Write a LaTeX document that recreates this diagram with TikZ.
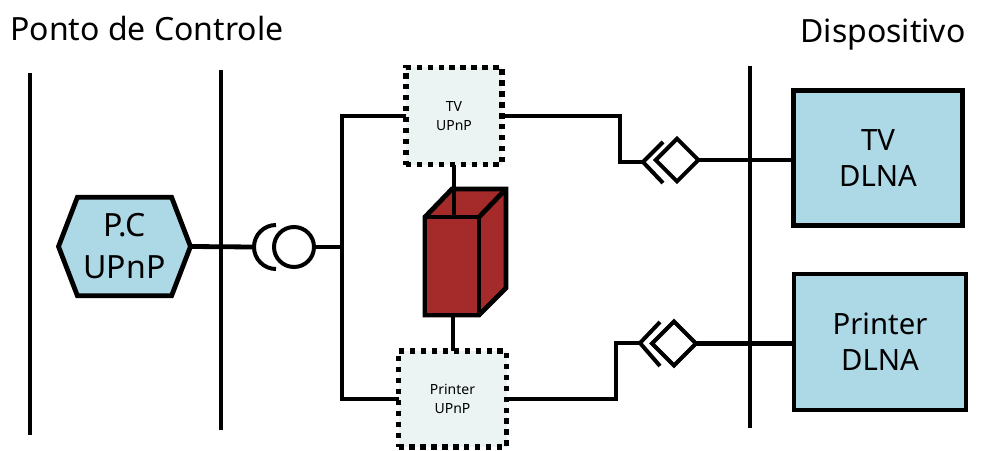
\documentclass[tikz,border=0pt]{standalone}
\usepackage{fontspec}
\setmainfont{Noto Sans}
\usetikzlibrary{shapes.geometric, shapes.symbols}

\begin{document}
\begin{tikzpicture}[x=0.75pt, y=-0.75pt, line width=3.6pt,
    bluebox/.style={draw, fill=devblue, align=center, inner sep=0pt, outer sep=0pt, font=\fontsize{22}{27}\selectfont},
    upnpbox/.style={draw, fill=boxgrey, align=center, inner sep=0pt, outer sep=0pt, line width=4pt, dash pattern=on 4pt off 4.2pt, font=\fontsize{10.5}{14}\selectfont},
    title/.style={inner sep=0pt, font=\fontsize{24}{29}\selectfont},
    joint/.style={draw, line width=3pt, fill=white, inner sep=0pt, outer sep=0pt}]
    \definecolor{devblue}{HTML}{ADD8E6}
    \definecolor{boxgrey}{HTML}{EBF3F3}
    \definecolor{boxred}{HTML}{A52A2A}
    \useasboundingbox (0,0) rectangle (1003,450);

    \node[title, anchor=west] (pontotitle) at (8,28) {Ponto de Controle};
    \node[title, anchor=east] (disptitle) at (968,35) {Dispositivo};

    % bus lines
    \draw (30,73) -- (30,435);
    \draw (221,70) -- (221,430);
    \draw (750,66) -- (750,428);

    \node[bluebox, signal, signal to=east and west, signal pointer angle=138,
          minimum width=99pt, minimum height=74pt, font=\fontsize{24}{31.5}\selectfont] (pc) at (124.5,246.5) {P.C\hspace{8pt}\\UPnP};
    \node[upnpbox, minimum width=72pt, minimum height=73pt] (tvupnp) at (454,116) {TV\\UPnP};
    \node[upnpbox, minimum width=81pt, minimum height=72pt] (printerupnp) at (452.5,399) {Printer\\UPnP};
    \node[bluebox, minimum width=127pt, minimum height=101pt] (tvdlna) at (878,158) {TV\\DLNA};
    \node[bluebox, minimum width=129pt, minimum height=102pt] (printerdlna) at (880,342) {Printer\\DLNA};

    \node[joint, circle, minimum size=30pt] (ring) at (294,247) {};
    \node[joint, diamond, aspect=1, minimum size=32pt] (tvjoint) at (677,160) {};
    \node[joint, diamond, aspect=1, minimum size=33pt] (printerjoint) at (674,343.5) {};

    \coordinate (arcend) at (254,247);
    \coordinate (branch) at (342,247);
    \coordinate (tvtip) at (643,162);
    \coordinate (printertip) at (640,343);
    \coordinate (cubetop) at (454,217);
    \coordinate (cubebottom) at (453,315);

    % socket and chevrons
    \draw[line width=3pt] (276,225) arc (270:90:22);
    \draw[line width=3pt] (663,142) -- (tvtip) -- (663,183);
    \draw[line width=3pt] (660,322) -- (printertip) -- (660,366);

    % connectors
    \draw (pc.east) -- (arcend);
    \draw (ring.east) -- (branch);
    \draw (tvupnp.west) -| (branch) |- (printerupnp.west);
    \draw (tvupnp.east) -| (620,162) -- (tvtip);
    \draw (printerupnp.east) -| (616,343) -- (printertip);
    \draw (tvjoint.east) -- (tvjoint.east -| tvdlna.west);
    \draw (printerjoint.east) -- (printerjoint.east -| printerdlna.west);
    \draw (tvupnp.south) -- (cubetop);
    \draw (cubebottom) -- (cubebottom |- printerupnp.north);

    % red box
    \draw[fill=boxred, line join=miter] (425,217) -- (452,189) -- (506,189) -- (506,288) -- (479,315) -- (425,315) -- cycle;
    \draw[fill=boxred, line join=miter] (425,217) rectangle (479,315);
    \draw (479,217) -- (506,189);
    \draw (454,189) -- (cubetop);
\end{tikzpicture}
\end{document}
